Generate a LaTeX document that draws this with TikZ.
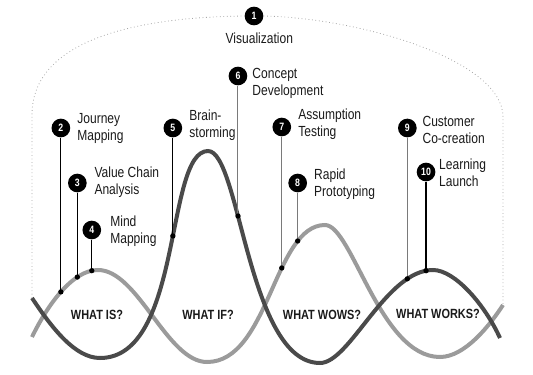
\documentclass[tikz,border=0pt]{standalone}
\usepackage{fontspec}
\setmainfont{Liberation Sans}[FakeStretch=0.82]
\usetikzlibrary{positioning}
\definecolor{wavedark}{HTML}{4A4A4A}
\definecolor{wavelight}{HTML}{9B9B9B}
\definecolor{pingray}{HTML}{7A7A7A}
\definecolor{ink}{HTML}{1A1A1A}

\begin{document}
\begin{tikzpicture}[x=0.75pt,y=-0.75pt,
    wave/.style={line width=3pt},
    arc/.style={dotted,line width=0.6pt,color=black!35},
    num/.style={circle,fill=black,text=white,inner sep=0pt,minimum size=14pt,
      font=\fontsize{8}{8}\selectfont\bfseries},
    tool/.style={align=left,inner sep=0pt,text=ink,
      font=\fontsize{11}{12.75}\selectfont},
    stage/.style={inner sep=0pt,text=ink,font=\fontsize{10}{12}\selectfont\bfseries},
    pin/.style={line width=0.8pt},
    dot/.style={circle,fill=black,inner sep=0pt,minimum size=4pt}]

    \useasboundingbox (0,0) rectangle (533,375);

    \draw[wave,wavelight] (32,337) .. controls (47,306) and (72,270) .. (98,270)
        coordinate[pos=.5] (d2) coordinate[pos=.73] (d3) coordinate[pos=.92] (d4)
      .. controls (138,270) and (167,362) .. (207,362)
      .. controls (269,362) and (274,225) .. (325,225)
        coordinate[pos=.627] (d7) coordinate[pos=.787] (d8)
      .. controls (352,225) and (380,357) .. (440,357)
      .. controls (465,357) and (490,325) .. (503,305) coordinate (le);

    \draw[wave,wavedark] (32,298) coordinate (ds) .. controls (52,328) and (75,358) .. (100,358)
      .. controls (183,358) and (165,151) .. (208,151) coordinate[pos=.56] (d5)
      .. controls (240,151) and (248,363) .. (320,363) coordinate[pos=.368] (d6)
      .. controls (350,363) and (386,270) .. (433,270)
        coordinate[pos=.81] (d9) coordinate[pos=.95] (d10)
      .. controls (455,270) and (485,305) .. (500,338);

    \node[num] (n1) at (254,16) {1};
    \node[num] (n2) at (d2 |- 0,128) {2};
    \node[num] (n3) at (d3 |- 0,183) {3};
    \node[num] (n4) at (d4 |- 0,230) {4};
    \node[num] (n5) at (d5 |- 0,128) {5};
    \node[num] (n6) at (d6 |- 0,76) {6};
    \node[num] (n7) at (d7 |- 0,127) {7};
    \node[num] (n8) at (d8 |- 0,183) {8};
    \node[num] (n9) at (d9 |- 0,128) {9};
    \node[num] (n10) at (d10 |- 0,172) {10};

    \node[tool,below=5pt of n1,xshift=4pt] (t1) {Visualization};
    \node[tool,right=5pt of n2,anchor=north west,yshift=11pt] (t2) {Journey\\Mapping};
    \node[tool,right=5.5pt of n3,anchor=north west,yshift=12pt] (t3) {Value Chain\\Analysis};
    \node[tool,right=6.5pt of n4,anchor=north west,yshift=11pt] (t4) {Mind\\Mapping};
    \node[tool,right=5pt of n5,anchor=north west,yshift=13.5pt] (t5) {Brain-\\storming};
    \node[tool,right=3.5pt of n6,anchor=north west,yshift=6pt] (t6) {Concept\\Development};
    \node[tool,right=5pt of n7,anchor=north west,yshift=14pt] (t7) {Assumption\\Testing};
    \node[tool,right=5pt of n8,anchor=north west,yshift=11pt] (t8) {Rapid\\Prototyping};
    \node[tool,right=4pt of n9,anchor=north west,yshift=9pt] (t9) {Customer\\Co-creation};
    \node[tool,right=2.5pt of n10,anchor=north west,yshift=10pt] (t10) {Learning\\Launch};

    \node[stage] (s1) at (97,315) {WHAT IS?};
    \node[stage] (s2) at (208,315) {WHAT IF?};
    \node[stage] (s3) at (322,315) {WHAT WOWS?};
    \node[stage] (s4) at (438,314) {WHAT WORKS?};

    \draw[arc] (ds) -- (32,115) .. controls (32,35) and (150,17) .. (n1.west);
    \draw[arc] (n1.east) .. controls (360,18) and (503,60) .. (503,117) -- (le);

    \draw[pin] (n2) -- (d2);
    \draw[pin] (n3) -- (d3);
    \draw[pin] (n4) -- (d4);
    \draw[pin] (n5) -- (d5);
    \draw[pin,pingray] (n6) -- (d6);
    \draw[pin,pingray] (n7) -- (d7);
    \draw[pin,pingray] (n8) -- (d8);
    \draw[pin,pingray] (n9) -- (d9);
    \draw[pin] (n10) -- (d10);

    \foreach \d in {d2,d3,d4,d5,d6,d7,d8,d9,d10}
        \node[dot] (p\d) at (\d) {};

\end{tikzpicture}
\end{document}
